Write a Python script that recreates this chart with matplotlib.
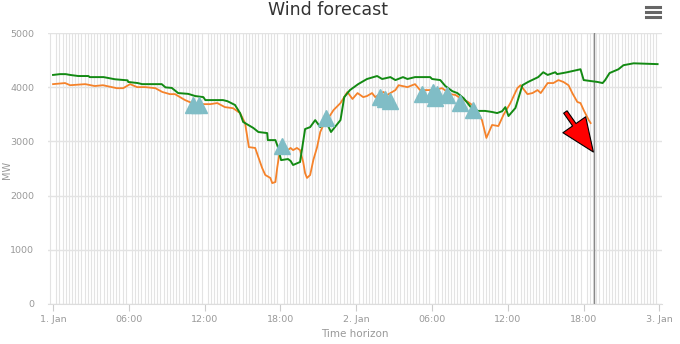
import numpy as np
import matplotlib
matplotlib.use('Agg')
import matplotlib.pyplot as plt
from matplotlib.lines import Line2D

# forecast (green) - hours from 1. Jan 00:00, MW
green_h = [0, 0.55, 1.0, 1.35, 2.0, 2.8, 2.9, 4.0, 4.9, 5.9, 5.95, 6.7, 7.05, 8.6, 8.9, 9.4, 9.9,
           10.7, 11.25, 11.9, 12.05, 13.45, 13.8, 14.4, 14.8, 15.05, 15.85, 16.25, 16.95, 17.0,
           17.6, 17.8, 18.05, 18.6, 18.8, 19.0, 19.55, 19.95, 20.35, 20.75, 21.15, 21.55, 22.0,
           22.75, 23.05, 23.5, 24.15, 24.85, 25.65, 26.05, 26.7, 27.1, 27.7, 28.05, 28.65, 29.6,
           29.85, 30.0, 30.65, 31.05, 31.6, 32.0, 32.5, 33.25, 33.65, 34.2, 34.75, 35.15, 35.55,
           35.8, 36.05, 36.6, 37.15, 37.6, 38.4, 38.8, 39.15, 39.75, 39.9, 40.7, 41.75, 42.0,
           43.1, 43.5, 43.7, 44.05, 44.75, 45.15, 45.95, 47.85]
green_mw = [4230, 4245, 4245, 4230, 4210, 4210, 4190, 4190, 4150, 4130, 4100, 4080, 4060, 4060,
            4000, 3990, 3895, 3880, 3840, 3820, 3765, 3765, 3745, 3675, 3525, 3360, 3250, 3175,
            3155, 3025, 3025, 2895, 2655, 2675, 2640, 2565, 2620, 3230, 3265, 3395, 3265, 3395,
            3175, 3395, 3820, 3950, 4060, 4155, 4210, 4155, 4190, 4135, 4190, 4155, 4190, 4190,
            4190, 4155, 4135, 4025, 3930, 3895, 3800, 3580, 3565, 3565, 3545, 3525, 3560, 3635,
            3470, 3620, 4040, 4100, 4190, 4280, 4230, 4280, 4245, 4280, 4335, 4135, 4100, 4080,
            4135, 4265, 4335, 4410, 4445, 4430]

# actual (orange)
orange_h = [0, 0.95, 1.35, 2.55, 3.3, 3.95, 4.65, 5.05, 5.55, 6.1, 6.65, 7.3, 8.1, 8.65, 9.25,
            9.65, 10.45, 11.0, 11.65, 12.45, 13.0, 13.6, 14.25, 14.8, 15.2, 15.5, 16.0, 16.25,
            16.55, 16.8, 17.2, 17.35, 17.6, 17.75, 17.9, 18.4, 18.8, 19.0, 19.3, 19.55, 19.8,
            19.95, 20.1, 20.35, 20.6, 20.9, 21.15, 21.4, 21.95, 22.2, 22.75, 23.3, 23.7, 24.1,
            24.55, 24.85, 25.25, 25.5, 26.15, 26.45, 27.1, 27.35, 28.05, 28.65, 29.05, 29.6,
            30.1, 30.8, 31.45, 31.85, 32.25, 32.85, 33.4, 33.95, 34.3, 34.75, 35.25, 35.65,
            36.2, 36.75, 37.0, 37.55, 37.95, 38.35, 38.6, 39.15, 39.6, 40.0, 40.4, 40.8, 41.1,
            41.5, 41.75, 42.0, 42.4, 42.55]
orange_mw = [4060, 4080, 4040, 4060, 4025, 4040, 4005, 3985, 3985, 4060, 4005, 4005, 3985, 3915,
             3875, 3875, 3765, 3710, 3690, 3690, 3710, 3635, 3615, 3525, 3340, 2895, 2880, 2710,
             2510, 2380, 2325, 2230, 2250, 2525, 2750, 2805, 2880, 2840, 2880, 2840, 2620, 2415,
             2325, 2380, 2655, 2895, 3175, 3305, 3490, 3580, 3710, 3915, 3785, 3895, 3820, 3840,
             3895, 3820, 3915, 3860, 3950, 4040, 4005, 4060, 3950, 3950, 3950, 3985, 3875, 3860,
             3800, 3730, 3635, 3395, 3065, 3305, 3285, 3490, 3710, 3985, 4040, 3875, 3895, 3950,
             3895, 4080, 4080, 4135, 4100, 4040, 3895, 3730, 3710, 3580, 3395, 3340]

# events (triangles)
event_h = [11.1, 11.55, 18.15, 21.6, 25.9, 26.3, 26.7, 29.2, 30.1, 30.25, 30.4, 31.2, 32.25, 33.25]
event_mw = [3670, 3670, 2925, 3440, 3815, 3780, 3740, 3870, 3910, 3800, 3870, 3850, 3720, 3575]

now_h = 42.8
arrow_from = (40.55, 3545)
arrow_to = (42.77, 2804)

xtick_h = [0, 6, 12, 18, 24, 30, 36, 42, 48]
xtick_labels = ['1. Jan', '06:00', '12:00', '18:00', '2. Jan', '06:00', '12:00', '18:00', '3. Jan']
ytick_mw = [0, 1000, 2000, 3000, 4000, 5000]

fig = plt.figure(figsize=(6.8, 3.44), dpi=100)
ax = fig.add_axes([48/680, 1-303.7/344, (662-48)/680, (303.7-33.3)/344])

grey = '#999999'
ax.set_xlim(-0.4, 48.2)
ax.set_ylim(0, 5000)
ax.set_xticks(xtick_h)
ax.set_xticklabels(xtick_labels)
ax.set_xticks(np.arange(-0.25, 48.2, 0.25), minor=True)
ax.set_yticks(ytick_mw)
ax.grid(True, which='minor', axis='x', color='#e3e3e3', lw=0.8)
ax.grid(True, which='major', axis='y', color='#e3e3e3', lw=1.0)
ax.set_axisbelow(True)
for s in ['top', 'right', 'left']:
    ax.spines[s].set_visible(False)
ax.spines['bottom'].set_color('#dddddd')
ax.tick_params(axis='x', which='major', colors='#cccccc', labelcolor=grey, labelsize=6.8, length=5, pad=3)
ax.tick_params(axis='x', which='minor', length=0)
ax.tick_params(axis='y', length=0, labelcolor=grey, labelsize=6.8, pad=10)

ax.plot(orange_h, orange_mw, color='#f5822a', lw=1.3, zorder=3)
ax.plot(green_h, green_mw, color='#138a13', lw=1.4, zorder=4)
ax.plot(event_h, event_mw, ls='none', marker='^', ms=11, color='#80bdc6', zorder=5)

ax.axvline(now_h, color='#888888', lw=1, zorder=2)
ax.annotate('', xy=arrow_to, xytext=arrow_from,
            arrowprops=dict(arrowstyle='simple,head_length=1.2,head_width=1.0,tail_width=0.15',
                            mutation_scale=20, fc='#ff0000', ec='black', lw=0.8,
                            shrinkA=0, shrinkB=0), zorder=6)

ax.set_xlabel('Time horizon', color=grey, fontsize=7.5, labelpad=4)
fig.text(7/680, 1-170/344, 'MW', rotation=90, color=grey, fontsize=7, ha='center', va='center')
fig.text(328/680, 1-10/344, 'Wind forecast', ha='center', va='center', fontsize=12.5, color='#333333')

for yy in [7, 12, 17]:
    fig.add_artist(Line2D([646/680, 660/680], [1-yy/344, 1-yy/344], color='#666666', lw=2.2))

fig.savefig('out.png', dpi=100)
